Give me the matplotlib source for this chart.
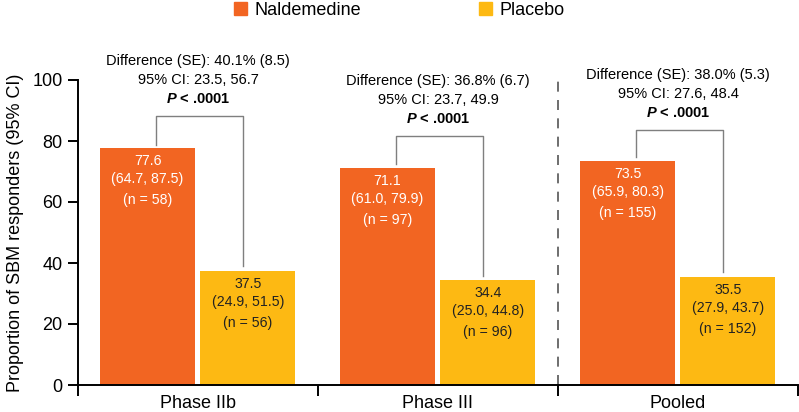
import matplotlib.pyplot as plt
import numpy as np
from matplotlib.patches import Patch

plt.rcParams['font.family'] = ['Liberation Sans', 'DejaVu Sans']
plt.rcParams['mathtext.fontset'] = 'custom'
plt.rcParams['mathtext.rm'] = 'Liberation Sans'
plt.rcParams['mathtext.bfit'] = 'Liberation Sans:italic:bold'

# data
groups = ['Phase IIb', 'Phase III', 'Pooled']
nald = [77.6, 71.1, 73.5]
nald_ci = ['(64.7, 87.5)', '(61.0, 79.9)', '(65.9, 80.3)']
nald_n = [58, 97, 155]
plac = [37.5, 34.4, 35.5]
plac_ci = ['(24.9, 51.5)', '(25.0, 44.8)', '(27.9, 43.7)']
plac_n = [56, 96, 152]
diff = ['40.1% (8.5)', '36.8% (6.7)', '38.0% (5.3)']
diff_ci = ['23.5, 56.7', '23.7, 49.9', '27.6, 48.4']
bracket_top = [88.2, 81.6, 83.6]

c_nald = '#F26522'
c_plac = '#FDB913'
c_line = '#7f7f7f'

fig = plt.figure(figsize=(7.99, 4.12), dpi=100)
ax = fig.add_axes([78 / 799, 1 - 385 / 412, 720 / 799, 305 / 412])

x = np.arange(len(groups))
w = 0.396
xn = x + 0.29
xp = x + 0.708
ax.bar(xn, nald, width=w, color=c_nald, zorder=2)
ax.bar(xp, plac, width=w, color=c_plac, zorder=2)

# text inside the bars
def bar_text(xs, vals, cis, ns, col):
    for xi, v, ci, n in zip(xs, vals, cis, ns):
        for txt, off in [(f'{v:.1f}', -13), (ci, -31), (f'(n = {n})', -52)]:
            ax.annotate(txt, (xi, v), xytext=(0, off * 0.72), textcoords='offset points',
                        ha='center', va='center', fontsize=10.2, color=col)

bar_text(xn, nald, nald_ci, nald_n, 'white')
bar_text(xp, plac, plac_ci, plac_n, '#222222')

# brackets + stats
for i in range(len(groups)):
    xl = xn[i] + 0.035
    xr = xp[i] - 0.02
    top = bracket_top[i]
    ax.plot([xl, xl, xr, xr], [nald[i] + 1.2, top, top, plac[i] + 1.4],
            color=c_line, lw=1.0, zorder=3)
    cx = x[i] + 0.5
    ax.annotate(r'$\mathbfit{P}$ < .0001', (cx, top), xytext=(0, 17 * 0.72),
                textcoords='offset points', ha='center', va='center', fontsize=10.5,
                fontweight='bold')
    ax.annotate(f'95% CI: {diff_ci[i]}', (cx, top), xytext=(0, 36 * 0.72),
                textcoords='offset points', ha='center', va='center', fontsize=10.5)
    ax.annotate(f'Difference (SE): {diff[i]}', (cx, top), xytext=(0, 55 * 0.72),
                textcoords='offset points', ha='center', va='center', fontsize=10.5)

ax.axvline(2, ymin=0, ymax=1, color='#555555', lw=1.2, ls=(0, (6, 5)), zorder=1)

ax.set_xlim(0, 3)
ax.set_ylim(0, 100)
ax.set_yticks([0, 20, 40, 60, 80, 100])
ax.set_xticks([0, 1, 2, 3])
ax.set_xticklabels([])
ax.set_xticks(x + 0.5, minor=True)
ax.set_xticklabels(groups, minor=True, fontsize=13)
ax.tick_params(axis='x', which='minor', length=0, pad=7)
ax.tick_params(axis='x', which='major', length=8, width=1.4)
ax.tick_params(axis='y', length=7, width=1.4, labelsize=13, pad=4)
for s in ['top', 'right']:
    ax.spines[s].set_visible(False)
for s in ['left', 'bottom']:
    ax.spines[s].set_linewidth(1.4)
ax.set_ylabel('Proportion of SBM responders (95% CI)', fontsize=13, labelpad=6)

handles = [Patch(color=c_nald), Patch(color=c_plac)]
fig.legend(handles, ['Naldemedine', 'Placebo'], loc='upper center', bbox_to_anchor=(0.5, 1.035),
           ncol=2, frameon=False, fontsize=13, handlelength=0.7, handleheight=0.7,
           handletextpad=0.45, columnspacing=6.5)

fig.savefig('out.png', dpi=100)
